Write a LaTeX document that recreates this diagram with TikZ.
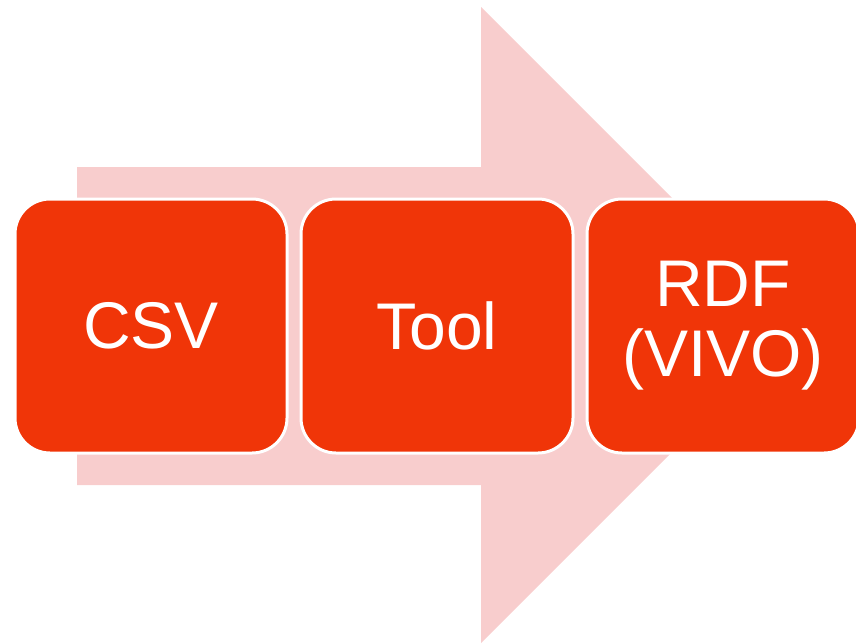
\documentclass[tikz,border=0pt]{standalone}
\usepackage{fontspec}
\setmainfont{Liberation Sans}
\usepackage{tikz}
\usetikzlibrary{positioning}
\usepackage{xcolor}
\definecolor{boxred}{RGB}{240,53,8}
\definecolor{arrowpink}{RGB}{248,205,205}

\begin{document}
\begin{tikzpicture}[
  x=1pt, y=-1pt,
  font=\fontsize{66}{70}\selectfont,
  stagebox/.style={draw=white, line width=3pt, fill=boxred, text=white,
                   rounded corners=35pt, align=center, outer sep=0pt,
                   minimum width=272pt, minimum height=254pt, inner sep=0pt}
]
\clip (0,0) rectangle (856,643);
% --- background arrow --------------------------------------------------
\fill[arrowpink] (77,167) -- (481,167) -- (481,7) -- (799,325)
  -- (481,643) -- (481,485) -- (77,485) -- cycle;
% --- stages ------------------------------------------------------------
\node[stagebox] (csv) at (151,326) {CSV};
\node[stagebox, right=14pt of csv]  (tool) {Tool};
\node[stagebox, right=14pt of tool] (rdf)  {RDF\\(VIVO)};
\end{tikzpicture}
\end{document}
